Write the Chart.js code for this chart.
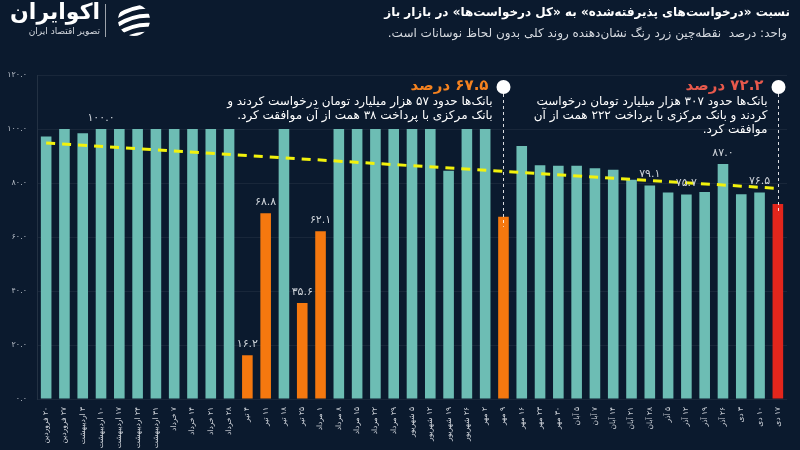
<!DOCTYPE html>
<html>
<head>
<meta charset="utf-8">
<script src="https://cdn.jsdelivr.net/npm/chart.js@4"></script>
<style>
  html, body { margin: 0; padding: 0; background: #0b1a2e; }
  #chart { display: block; }
</style>
</head>
<body>
<canvas id="chart" width="800" height="450" dir="rtl"></canvas>
<script>
const categories = [
  "۲۰ فروردین", "۲۷ فروردین", "۳ اردیبهشت", "۱۰ اردیبهشت", "۱۷ اردیبهشت", "۲۴ اردیبهشت", "۳۱ اردیبهشت",
  "۷ خرداد", "۱۴ خرداد", "۲۱ خرداد", "۲۸ خرداد", "۴ تیر", "۱۱ تیر", "۱۸ تیر", "۲۵ تیر",
  "۱ مرداد", "۸ مرداد", "۱۵ مرداد", "۲۲ مرداد", "۲۹ مرداد", "۵ شهریور", "۱۲ شهریور", "۱۹ شهریور",
  "۲۶ شهریور", "۲ مهر", "۹ مهر", "۱۶ مهر", "۲۳ مهر", "۳۰ مهر", "۵ آبان", "۷ آبان", "۱۴ آبان",
  "۲۱ آبان", "۲۸ آبان", "۵ آذر", "۱۲ آذر", "۱۹ آذر", "۲۶ آذر", "۳ دی", "۱۰ دی", "۱۷ دی"
];
const acceptedRatio = [
  97.2, 100, 98.4, 100, 100, 100, 100, 100, 100, 100, 100,
  16.2, 68.8, 100, 35.6, 62.1,
  100, 100, 100, 100, 100, 100, 84.5, 100, 100, 67.5,
  93.7, 86.6, 86.4, 86.4, 85.5, 84.9, 81.2, 79.1, 76.5, 75.7, 76.7, 87.0, 75.8, 76.5, 72.2
];
const orangeIdx = [11, 12, 14, 15, 25];
const redIdx = [40];
const labeledIdx = [3, 11, 12, 14, 15, 33, 35, 37, 39];
const trendStart = 94.8;
const trendEnd = 78.0;
const yTicks = [0, 20, 40, 60, 80, 100, 120];

const notes = [
  { idx: 25, head: "۶۷.۵ درصد", color: "#f5821f",
    lines: ["بانک‌ها حدود ۵۷ هزار میلیارد تومان درخواست کردند و", "بانک مرکزی با پرداخت ۳۸ همت از آن موافقت کرد."] },
  { idx: 40, head: "۷۲.۲ درصد", color: "#e8594c",
    lines: ["بانک‌ها حدود ۳۰۷ هزار میلیارد تومان درخواست", "کردند و بانک مرکزی با پرداخت ۲۲۲ همت از آن", "موافقت کرد."] }
];

const FONT = "'DejaVu Sans', sans-serif";
const faDigits = "۰۱۲۳۴۵۶۷۸۹";
function toFa(s) {
  return String(s).replace(/[0-9]/g, d => faDigits[+d]);
}

const trendData = categories.map((_, i) => i === 0 ? trendStart : (i === categories.length - 1 ? trendEnd : null));

const decor = {
  id: "decor",
  beforeDraw(chart) {
    const ctx = chart.ctx;
    ctx.save();
    ctx.fillStyle = "#0b1a2e";
    ctx.fillRect(0, 0, chart.width, chart.height);

    // header
    ctx.direction = "rtl";
    ctx.textAlign = "right";
    ctx.textBaseline = "middle";
    ctx.fillStyle = "#ffffff";
    ctx.font = "bold 12px " + FONT;
    ctx.fillText("نسبت «درخواست‌های پذیرفته‌شده» به «کل درخواست‌ها» در بازار باز", 790, 13);
    ctx.fillStyle = "#d6dae0";
    ctx.font = "12px " + FONT;
    ctx.fillText("واحد: درصد  نقطه‌چین زرد رنگ نشان‌دهنده روند کلی بدون لحاظ نوسانات است.", 787, 34);

    // logo
    ctx.fillStyle = "#ffffff";
    ctx.font = "bold 22px " + FONT;
    ctx.fillText("اکوایران", 100, 13);
    ctx.font = "9px " + FONT;
    ctx.fillStyle = "#d6dae0";
    ctx.fillText("تصویر اقتصاد ایران", 100, 32);
    ctx.strokeStyle = "rgba(255,255,255,0.6)";
    ctx.lineWidth = 1;
    ctx.beginPath();
    ctx.moveTo(105.5, 4);
    ctx.lineTo(105.5, 37);
    ctx.stroke();
    ctx.beginPath();
    ctx.arc(134, 20, 16, 0, Math.PI * 2);
    ctx.clip();
    ctx.strokeStyle = "#ffffff";
    ctx.lineWidth = 4;
    for (let k = -2; k <= 2; k++) {
      ctx.beginPath();
      ctx.moveTo(116, 26 + k * 9);
      ctx.quadraticCurveTo(134, 14 + k * 9, 152, 16 + k * 9);
      ctx.stroke();
    }
    ctx.restore();
  },
  afterDatasetsDraw(chart) {
    const ctx = chart.ctx;
    const x = chart.scales.x, y = chart.scales.y;
    ctx.save();
    ctx.direction = "rtl";

    // value labels
    ctx.fillStyle = "#cfd4da";
    ctx.font = "11px " + FONT;
    ctx.textAlign = "center";
    ctx.textBaseline = "middle";
    labeledIdx.forEach(i => {
      ctx.fillText(toFa(acceptedRatio[i].toFixed(1)), x.getPixelForValue(i), y.getPixelForValue(acceptedRatio[i]) - 11);
    });

    // notes
    notes.forEach(n => {
      const px = Math.round(x.getPixelForValue(n.idx)) + 0.5;
      const top = y.getPixelForValue(acceptedRatio[n.idx]);
      ctx.strokeStyle = "rgba(255,255,255,0.85)";
      ctx.lineWidth = 1;
      ctx.setLineDash([3, 3]);
      ctx.beginPath();
      ctx.moveTo(px, 94);
      ctx.lineTo(px, top + 10);
      ctx.stroke();
      ctx.setLineDash([]);
      ctx.fillStyle = "#ffffff";
      ctx.beginPath();
      ctx.arc(px, 87, 7, 0, Math.PI * 2);
      ctx.fill();

      ctx.textAlign = "right";
      ctx.fillStyle = n.color;
      ctx.font = "bold 15px " + FONT;
      ctx.fillText(n.head, px - 15, 86);
      ctx.fillStyle = "#ffffff";
      ctx.font = "12px " + FONT;
      n.lines.forEach((t, k) => ctx.fillText(t, px - 11, 102 + k * 14));
    });
    ctx.restore();
  }
};

new Chart(document.getElementById("chart"), {
  data: {
    labels: categories,
    datasets: [
      {
        type: "line",
        label: "روند",
        data: trendData,
        spanGaps: true,
        borderColor: "#f2f20c",
        borderWidth: 3,
        borderDash: [9, 7],
        pointRadius: 0,
        order: 0
      },
      {
        type: "bar",
        label: "نسبت",
        data: acceptedRatio,
        backgroundColor: ctx => orangeIdx.includes(ctx.dataIndex) ? "#f5780f"
          : redIdx.includes(ctx.dataIndex) ? "#e3261c" : "#6dbdb4",
        barPercentage: 0.58,
        categoryPercentage: 1,
        order: 1
      }
    ]
  },
  options: {
    responsive: false,
    animation: false,
    layout: { padding: { top: 75, right: 13, left: 0, bottom: 0 } },
    plugins: {
      legend: { display: false },
      tooltip: { enabled: false }
    },
    scales: {
      x: {
        afterFit: s => { s.height = 51; },
        grid: { display: false },
        border: { display: false },
        ticks: {
          autoSkip: false,
          maxRotation: 90,
          minRotation: 90,
          padding: 0,
          color: "#d6dae0",
          font: { family: FONT, size: 7.5 }
        }
      },
      y: {
        min: 0,
        max: 120,
        afterFit: s => { s.width = 37; },
        afterBuildTicks: s => { s.ticks = yTicks.map(v => ({ value: v })); },
        grid: { color: "rgba(255,255,255,0.06)", drawTicks: false },
        border: { color: "rgba(255,255,255,0.1)" },
        ticks: {
          padding: 10,
          color: "#b8bec8",
          font: { family: FONT, size: 8 },
          callback: v => toFa(v.toFixed(1))
        }
      }
    }
  },
  plugins: [decor]
});
</script>
</body>
</html>
